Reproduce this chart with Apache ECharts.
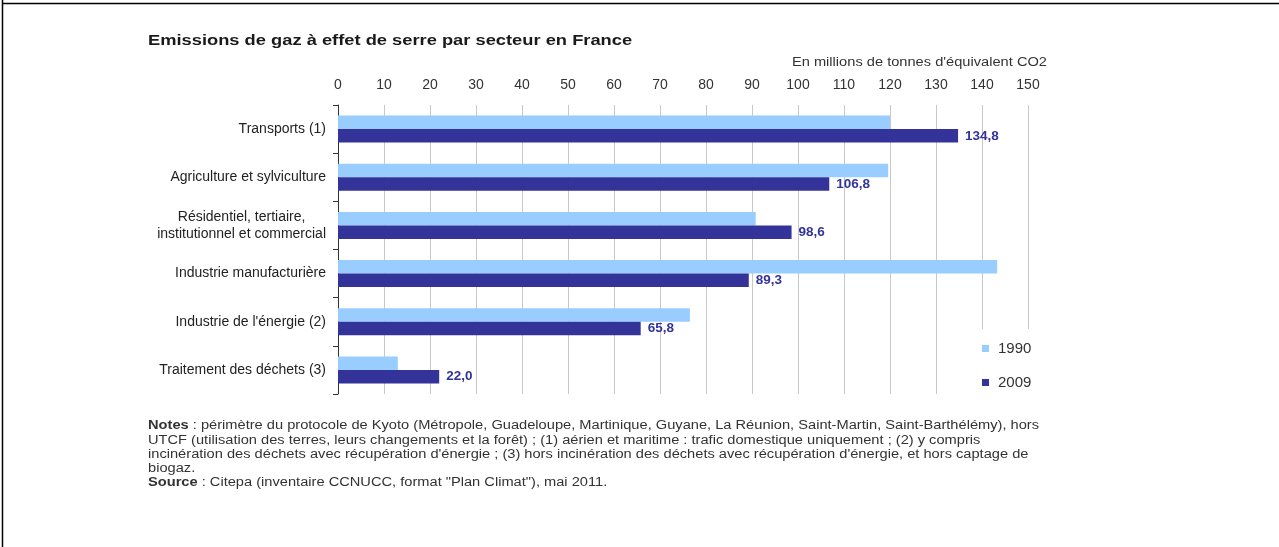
<!DOCTYPE html>
<html>
<head>
<meta charset="utf-8">
<script src="https://cdn.jsdelivr.net/npm/echarts@6/dist/echarts.min.js"></script>
<style>
html,body{margin:0;padding:0;background:#fff;}
#chart{width:1279px;height:547px;}
</style>
</head>
<body>
<div id="chart"></div>
<script>
var categories = ['Transports (1)', 'Agriculture et sylviculture', 'Résidentiel, tertiaire,\ninstitutionnel et commercial', 'Industrie manufacturière', "Industrie de l'énergie (2)", 'Traitement des déchets (3)'];
var values1990 = [120.0, 119.6, 90.8, 143.3, 76.5, 13.0];
var values2009 = [134.8, 106.8, 98.6, 89.3, 65.8, 22.0];
var xTicks = {min: 0, max: 150, interval: 10};
var seriesNames = ['1990', '2009'];

var FONT = '"Liberation Sans", Arial, sans-serif';
var SX = 1.22;
var chart = echarts.init(document.getElementById('chart'));
var noteLines = [
  [{b: 'Notes'}, ' : périmètre du protocole de Kyoto (Métropole, Guadeloupe, Martinique, Guyane, La Réunion, Saint-Martin, Saint-Barthélémy), hors'],
  ['UTCF (utilisation des terres, leurs changements et la forêt) ; (1) aérien et maritime : trafic domestique uniquement ; (2) y compris'],
  ["incinération des déchets avec récupération d'énergie ; (3) hors incinération des déchets avec récupération d'énergie, et hors captage de"],
  ['biogaz.'],
  [{b: 'Source'}, ' : Citepa (inventaire CCNUCC, format "Plan Climat"), mai 2011.']
];
var graphics = [
  {type: 'line', shape: {x1: 2.5, y1: 0, x2: 2.5, y2: 547}, style: {stroke: '#000', lineWidth: 1.5}},
  {type: 'line', shape: {x1: 2, y1: 3.5, x2: 1279, y2: 3.5}, style: {stroke: '#000', lineWidth: 1.5}},
  {type: 'text', x: 148, y: 33, scaleX: SX, style: {text: 'Emissions de gaz à effet de serre par secteur en France', font: 'bold 15px ' + FONT, fill: '#1a1a1a', textVerticalAlign: 'top'}},
  {type: 'text', x: 1047, y: 57, scaleX: SX, style: {text: "En millions de tonnes d'équivalent CO2", font: '12px ' + FONT, fill: '#333', textAlign: 'right', textVerticalAlign: 'top'}}
];
noteLines.forEach(function (parts, i) {
  var txt = parts.map(function (p) { return typeof p === 'string' ? '{n|' + p + '}' : '{b|' + p.b + '}'; }).join('');
  graphics.push({type: 'text', x: 148, y: 420 + i * 14.2, scaleX: SX, style: {
    text: txt, font: '12px ' + FONT, fill: '#333', textVerticalAlign: 'top',
    rich: {n: {fontSize: 12, fontFamily: 'Liberation Sans, Arial', color: '#333'}, b: {fontSize: 12, fontWeight: 'bold', fontFamily: 'Liberation Sans, Arial', color: '#222'}}
  }});
});

function fmt(v) { return v.toFixed(1).replace('.', ','); }

chart.setOption({
  backgroundColor: '#fff',
  animation: false,
  textStyle: {fontFamily: FONT},
  grid: {left: 338, right: 251, top: 105, bottom: 153, containLabel: false},
  legend: {orient: 'vertical', left: 962, top: 329, data: seriesNames, icon: 'rect', itemWidth: 7, itemHeight: 7, itemGap: 19,
    backgroundColor: '#fff', padding: [12, 12, 12, 20], z: 10,
    textStyle: {fontSize: 15, color: '#333', fontFamily: FONT, padding: [0, 0, 0, 4]}},
  xAxis: {type: 'value', position: 'top', min: xTicks.min, max: xTicks.max, interval: xTicks.interval,
    axisLine: {show: false}, axisTick: {show: false},
    axisLabel: {color: '#333', fontSize: 14, margin: 13, fontFamily: FONT},
    splitLine: {show: true, lineStyle: {color: '#c8c8c8', width: 1}}},
  yAxis: {type: 'category', inverse: true, data: categories,
    axisLine: {show: true, lineStyle: {color: '#333', width: 1}},
    axisTick: {show: true, length: 5, alignWithLabel: false, lineStyle: {color: '#333'}},
    axisLabel: {fontSize: 14, color: '#222', margin: 12, fontFamily: FONT, lineHeight: 17,
      formatter: function (v) {
        var p = v.split('\n');
        if (p.length > 1) return '{c|' + p[0] + '}\n{r|' + p[1] + '}';
        return v;
      },
      rich: {c: {align: 'center', fontSize: 14, color: '#222', lineHeight: 17}, r: {align: 'right', fontSize: 14, color: '#222', lineHeight: 17}}
    }},
  series: [
    {name: seriesNames[0], type: 'bar', data: values1990, itemStyle: {color: '#99ccff'}, barGap: '0%', barCategoryGap: '44%'},
    {name: seriesNames[1], type: 'bar', data: values2009, itemStyle: {color: '#333399'}, barGap: '0%', barCategoryGap: '44%',
      label: {show: true, position: 'right', distance: 7, fontWeight: 'bold', fontSize: 13.5, color: '#333399', fontFamily: FONT,
        formatter: function (p) { return fmt(p.value); }}}
  ],
  graphic: graphics
});
</script>
</body>
</html>
